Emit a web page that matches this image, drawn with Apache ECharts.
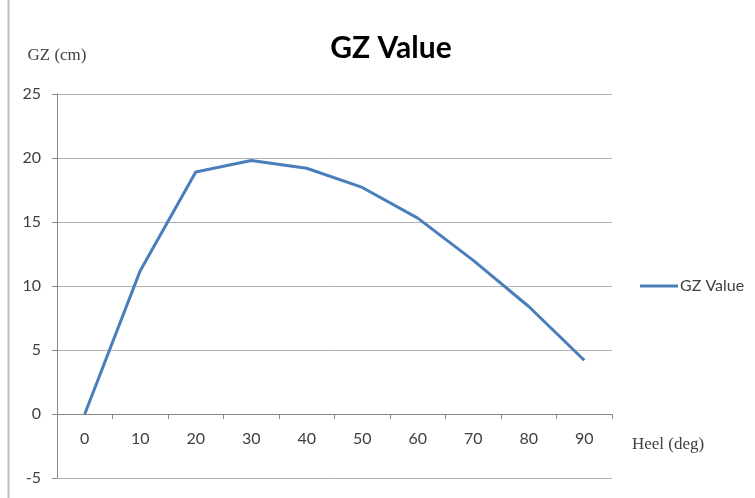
<!DOCTYPE html>
<html lang="en">
<head>
    <meta charset="UTF-8">
    <title>GZ Value</title>
    <script src="https://cdn.jsdelivr.net/npm/echarts@6/dist/echarts.min.js"></script>
    <style>
        html, body { margin: 0; padding: 0; background: #fff; }
        #main { width: 755px; height: 498px; }
    </style>
</head>
<body>
<div id="main"></div>
<script>
    // heel angle categories (deg)
    const heelAngles = ['0', '10', '20', '30', '40', '50', '60', '70', '80', '90'];
    // GZ values (cm)
    const gzValues = [0, 11.2, 18.9, 19.8, 19.2, 17.7, 15.3, 12.0, 8.4, 4.2];

    const chart = echarts.init(document.getElementById('main'));

    const option = {
        backgroundColor: '#ffffff',
        animation: false,
        title: {
            text: 'GZ Value',
            left: 386,
            top: 28,
            textAlign: 'center',
            textStyle: {
                fontFamily: 'Lato',
                fontWeight: 'bold',
                fontSize: 30,
                color: '#000'
            }
        },
        legend: {
            left: 640,
            top: 278,
            padding: 0,
            itemWidth: 38,
            itemHeight: 3,
            itemGap: 5,
            textStyle: { fontFamily: 'Lato', fontSize: 16, color: '#404040', padding: [0, 0, 0, -3] },
            data: [{ name: 'GZ Value', icon: 'rect' }]
        },
        grid: {
            left: 57,
            right: 143,
            top: 94,
            bottom: 20,
            containLabel: false,
            outerBoundsMode: 'none'
        },
        xAxis: {
            type: 'category',
            data: heelAngles,
            boundaryGap: true,
            position: 'bottom',
            // the axis sits on the zero line: one 5 cm band above the grid bottom
            offset: -64,
            name: 'Heel (deg)',
            nameLocation: 'end',
            nameGap: 20,
            nameTextStyle: {
                fontFamily: 'Liberation Serif',
                fontSize: 17,
                color: '#404040',
                align: 'left',
                verticalAlign: 'top',
                padding: [22, 0, 0, 0]
            },
            axisLine: { onZero: false, lineStyle: { color: '#868686', width: 1 } },
            axisTick: { show: true, inside: false, length: 5, lineStyle: { color: '#868686' } },
            axisLabel: {
                margin: 17,
                fontFamily: 'Lato',
                fontSize: 16,
                color: '#404040'
            },
            splitLine: { show: false }
        },
        yAxis: {
            type: 'value',
            min: -5,
            max: 25,
            interval: 5,
            name: 'GZ (cm)',
            nameLocation: 'end',
            nameGap: 30,
            nameTextStyle: {
                fontFamily: 'Liberation Serif',
                fontSize: 17,
                color: '#404040'
            },
            axisLine: { show: true, lineStyle: { color: '#868686', width: 1 } },
            axisTick: { show: true, inside: false, length: 5, lineStyle: { color: '#868686' } },
            axisLabel: {
                margin: 16,
                fontFamily: 'Lato',
                fontSize: 16,
                color: '#404040'
            },
            splitLine: { show: true, lineStyle: { color: '#b3b3b3', width: 1 } }
        },
        series: [
            {
                name: 'GZ Value',
                type: 'line',
                data: gzValues,
                symbol: 'none',
                smooth: false,
                lineStyle: { color: '#4a7ebb', width: 3 },
                itemStyle: { color: '#4a7ebb' }
            }
        ],
        // left frame edge of the original chart area
        graphic: [
            {
                type: 'line',
                shape: { x1: 8.5, y1: 0, x2: 8.5, y2: 498 },
                style: { stroke: '#bfbfbf', lineWidth: 2 }
            }
        ]
    };

    chart.setOption(option);
</script>
</body>
</html>
